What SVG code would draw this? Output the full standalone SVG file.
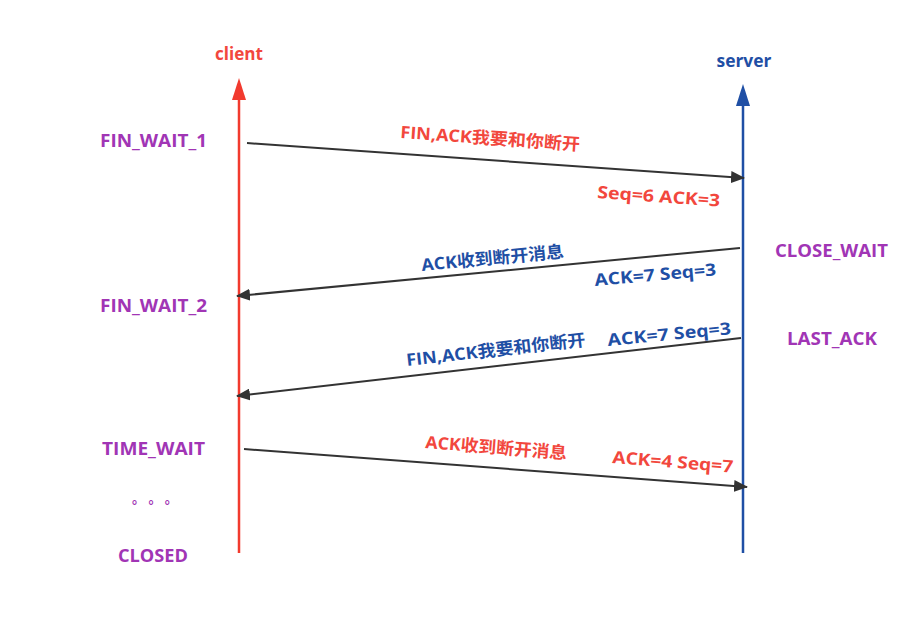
<svg xmlns="http://www.w3.org/2000/svg" width="920" height="636" viewBox="0 0 920 636">
<style>
text{font-family:"Open Sans","Noto Sans CJK SC",sans-serif;font-weight:bold;}
.st{fill:#a135b5;font-size:18px;}
.r{fill:#f2473d;font-size:17px;}
.b{fill:#1f4fa5;font-size:17px;}
.msg{stroke:#333;stroke-width:2;fill:none;marker-end:url(#ah);}
</style>
<defs>
<marker id="ah" markerWidth="14" markerHeight="12" refX="13" refY="6" orient="auto" markerUnits="userSpaceOnUse">
<path d="M0,0 L14,6 L0,12 Z" fill="#333"/>
</marker>
</defs>
<rect width="920" height="636" fill="#fff"/>
<g id="client">
<line x1="239" y1="96" x2="239" y2="553" stroke="#f23a2e" stroke-width="2.5"/>
<path d="M239,78 L246,100 L232,100 Z" fill="#f23a2e"/>
<text x="239" y="60" text-anchor="middle" class="r" textLength="48" lengthAdjust="spacingAndGlyphs">client</text>
</g>
<g id="server">
<line x1="743" y1="102" x2="743" y2="553" stroke="#1f4fa5" stroke-width="2.5"/>
<path d="M743,84 L750,106 L736,106 Z" fill="#1f4fa5"/>
<text x="744" y="67" text-anchor="middle" class="b" textLength="55" lengthAdjust="spacingAndGlyphs">server</text>
</g>
<g id="states">
<text x="100" y="147" class="st" textLength="107" lengthAdjust="spacingAndGlyphs">FIN_WAIT_1</text>
<text x="100" y="312" class="st" textLength="107" lengthAdjust="spacingAndGlyphs">FIN_WAIT_2</text>
<text x="775" y="257" class="st" textLength="113" lengthAdjust="spacingAndGlyphs">CLOSE_WAIT</text>
<text x="787" y="345" class="st" textLength="90" lengthAdjust="spacingAndGlyphs">LAST_ACK</text>
<text x="102" y="455" class="st" textLength="103" lengthAdjust="spacingAndGlyphs">TIME_WAIT</text>
<text x="155" y="503" class="st" text-anchor="middle" style="font-size:13px">。 。 。</text>
<text x="118" y="562" class="st" textLength="70" lengthAdjust="spacingAndGlyphs">CLOSED</text>
</g>
<g id="connectors">
<line class="msg" x1="247" y1="143" x2="744" y2="178"/>
<line class="msg" x1="740" y1="248" x2="237" y2="296"/>
<line class="msg" x1="741" y1="338" x2="237" y2="396"/>
<line class="msg" x1="244" y1="449" x2="747" y2="487"/>
</g>
<g id="labels">
<text class="r" transform="translate(400,138) rotate(4)" textLength="180" lengthAdjust="spacingAndGlyphs">FIN,ACK我要和你断开</text>
<text class="r" transform="translate(597,198) rotate(4)" textLength="123" lengthAdjust="spacingAndGlyphs">Seq=6 ACK=3</text>
<text class="b" transform="translate(422,271) rotate(-5.5)" textLength="143" lengthAdjust="spacingAndGlyphs">ACK收到断开消息</text>
<text class="b" transform="translate(595,286) rotate(-5)" textLength="122" lengthAdjust="spacingAndGlyphs">ACK=7 Seq=3</text>
<text class="b" transform="translate(407,366) rotate(-6.5)" textLength="180" lengthAdjust="spacingAndGlyphs">FIN,ACK我要和你断开</text>
<text class="b" transform="translate(608,346) rotate(-5.5)" textLength="124" lengthAdjust="spacingAndGlyphs">ACK=7 Seq=3</text>
<text class="r" transform="translate(425,448) rotate(4.5)" textLength="142" lengthAdjust="spacingAndGlyphs">ACK收到断开消息</text>
<text class="r" transform="translate(612,463) rotate(4.5)" textLength="121" lengthAdjust="spacingAndGlyphs">ACK=4 Seq=7</text>
</g>
</svg>
